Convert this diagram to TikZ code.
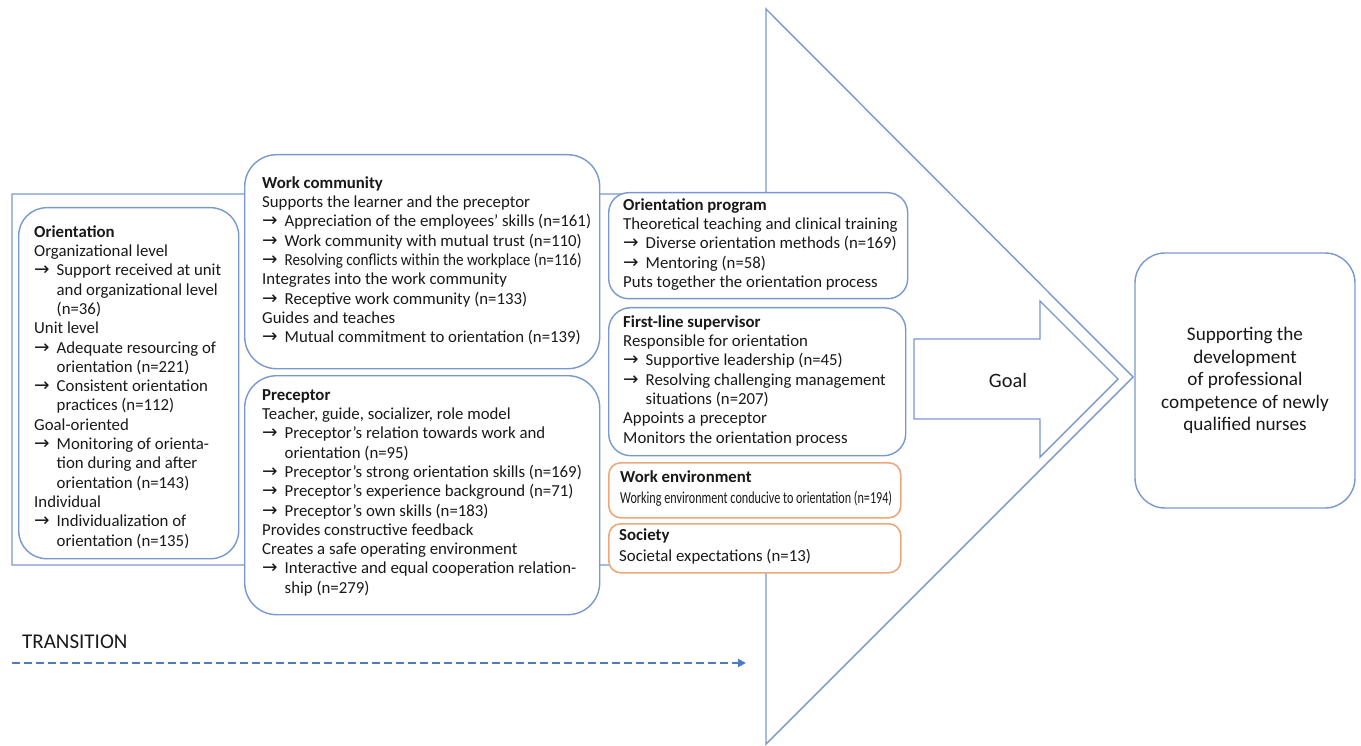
\documentclass[tikz,border=0pt]{standalone}
\usepackage{fontspec}
\setmainfont{Carlito}
\newfontfamily\arrfont{DejaVu Sans}
\usepackage{graphicx}
\usetikzlibrary{arrows.meta}
\definecolor{bl}{RGB}{120,152,208}
\definecolor{orn}{RGB}{237,168,122}
\definecolor{dbl}{RGB}{80,122,198}
\definecolor{txt}{RGB}{25,25,25}
\newcommand\ar{\makebox[22.5pt][l]{\arrfont\fontsize{18.5}{18.5}\selectfont →}}
\newcommand\ind{\hspace*{22.5pt}}
\tikzset{
  bluebox/.style={draw=bl, line width=1.4pt, fill=white, inner sep=0pt, anchor=north west},
  orangebox/.style={draw=orn, line width=1.6pt, fill=white, inner sep=0pt, anchor=north west, rounded corners=12pt},
  body/.style={font=\fontsize{16.8}{19.3}\selectfont, text=txt, align=left, inner sep=0pt, anchor=north west},
  smallbody/.style={font=\fontsize{16.8}{21}\selectfont, text=txt, align=left, inner sep=0pt, anchor=north west},
  outline/.style={draw=bl, line width=1.4pt, fill=white},
}
\begin{document}
\begin{tikzpicture}[x=1pt,y=-1pt]
\useasboundingbox (0,0) rectangle (1361,746);
% big arrow outline
\draw[outline] (12,194) -- (766,194) -- (766,9) -- (1133,377) -- (766,744) -- (766,565) -- (12,565) -- cycle;

% Orientation
\node[bluebox, rounded corners=28pt, minimum width=220pt, minimum height=351pt] (orient) at (18,207) {};
\node[body] (orientT) at (34,223.5) {\strut\textbf{Orientation}\\
Organizational level\\
\ar Support received at unit\\
\ind and organizational level\\
\ind (n=36)\\
Unit level\\
\ar Adequate resourcing of\\
\ind orientation (n=221)\\
\ar Consistent orientation\\
\ind practices (n=112)\\
Goal-oriented\\
\ar Monitoring of orienta-\\
\ind tion during and after\\
\ind orientation (n=143)\\
Individual\\
\ar Individualization of\\
\ind orientation (n=135)};

% Work community
\node[bluebox, rounded corners=32pt, minimum width=355pt, minimum height=214pt] (work) at (244,154) {};
\node[body] (workT) at (262,174.5) {\strut\textbf{Work community}\\
Supports the learner and the preceptor\\
\ar Appreciation of the employees’ skills (n=161)\\
\ar Work community with mutual trust (n=110)\\
\ar \resizebox{297pt}{\height}{Resolving conflicts within the workplace (n=116)}\\
Integrates into the work community\\
\ar Receptive work community (n=133)\\
Guides and teaches\\
\ar Mutual commitment to orientation (n=139)};

% Preceptor
\node[bluebox, rounded corners=32pt, minimum width=355pt, minimum height=239pt] (precep) at (244,375) {};
\node[body] (precepT) at (262,386.5) {\strut\textbf{Preceptor}\\
Teacher, guide, socializer, role model\\
\ar Preceptor’s relation towards work and\\
\ind orientation (n=95)\\
\ar Preceptor’s strong orientation skills (n=169)\\
\ar Preceptor’s experience background (n=71)\\
\ar Preceptor’s own skills (n=183)\\
Provides constructive feedback\\
Creates a safe operating environment\\
\ar Interactive and equal cooperation relation-\\
\ind ship (n=279)};

% Orientation program
\node[bluebox, rounded corners=20pt, minimum width=299pt, minimum height=106pt] (oprog) at (608,192) {};
\node[body] (oprogT) at (623,196.5) {\strut\textbf{Orientation program}\\
Theoretical teaching and clinical training\\
\ar Diverse orientation methods (n=169)\\
\ar Mentoring (n=58)\\
Puts together the orientation process};

% First-line supervisor
\node[bluebox, rounded corners=22pt, minimum width=297pt, minimum height=148pt] (fls) at (608,307) {};
\node[body] (flsT) at (623,313.5) {\strut\textbf{First-line supervisor}\\
Responsible for orientation\\
\ar Supportive leadership (n=45)\\
\ar Resolving challenging management\\
\ind situations (n=207)\\
Appoints a preceptor\\
Monitors the orientation process};

% Work environment
\node[orangebox, minimum width=292pt, minimum height=55pt] (wenv) at (608,462) {};
\node[smallbody] (wenvT) at (620,467.3) {\strut\textbf{Work environment}\\
\resizebox{272pt}{\height}{Working environment conducive to orientation (n=194)}};

% Society
\node[orangebox, minimum width=292pt, minimum height=49pt] (soc) at (608,523) {};
\node[smallbody] (socT) at (619,525.3) {\strut\textbf{Society}\\
Societal expectations (n=13)};

% Goal arrow
\draw[outline] (914,339) -- (1040,339) -- (1040,301) -- (1118,379) -- (1040,457) -- (1040,419) -- (914,419) -- cycle;
\node[font=\fontsize{20.4}{24}\selectfont, text=txt, inner sep=0pt] (goal) at (1008,380) {Goal};

% Target box
\node[bluebox, anchor=center, rounded corners=30pt, minimum width=220pt, minimum height=255pt, align=center, font=\fontsize{19.2}{22.5}\selectfont, text=txt] (target) at (1245,380.5) {Supporting the\\ development\\ of professional\\ competence of newly\\ qualified nurses};

% Transition
\node[font=\fontsize{21}{24}\selectfont, text=txt, anchor=base west, inner sep=0pt] (trans) at (22,648) {TRANSITION};
\coordinate (ts) at (12,663);
\coordinate (te) at (746,663);
\draw[dbl, line width=2.6pt, dash pattern=on 8pt off 4pt, -{Triangle[length=8pt,width=8pt]}] (ts) -- (te);
\end{tikzpicture}
\end{document}
